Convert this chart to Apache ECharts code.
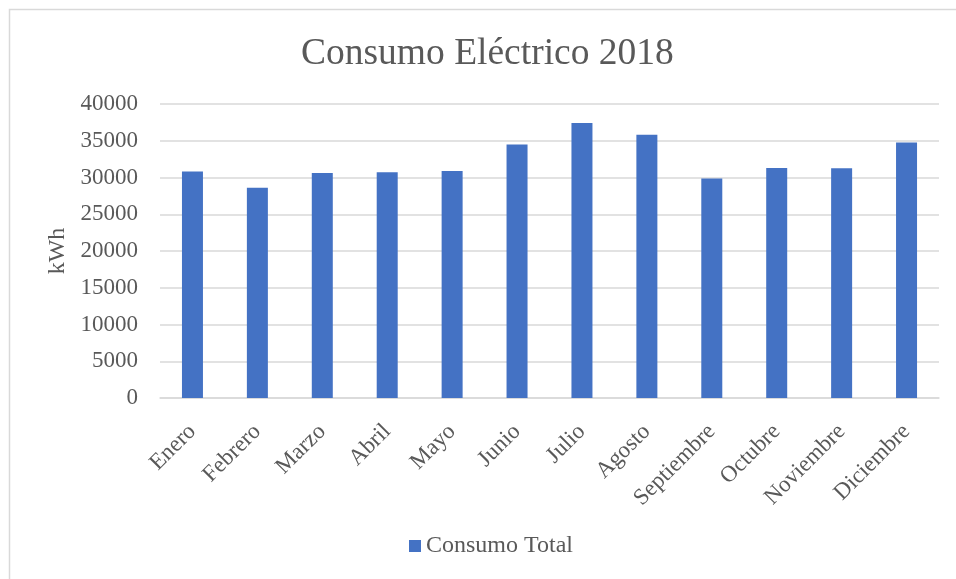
<!DOCTYPE html>
<html>
<head>
<meta charset="utf-8">
<script src="https://cdn.jsdelivr.net/npm/echarts@6/dist/echarts.min.js"></script>
<style>html,body{margin:0;padding:0;background:#fff;}#c{width:956px;height:579px;}</style>
</head>
<body>
<div id="c"></div>
<script>
const months = ['Enero','Febrero','Marzo','Abril','Mayo','Junio','Julio','Agosto','Septiembre','Octubre','Noviembre','Diciembre'];
const consumoTotal = [30800, 28600, 30600, 30700, 30900, 34500, 37400, 35800, 29850, 31300, 31250, 34750];
const yTicks = { min: 0, max: 40000, interval: 5000 };

const FONT = '"Liberation Serif", "Times New Roman", serif';
const TXT = '#595959';
const chart = echarts.init(document.getElementById('c'), null, { renderer: 'canvas' });
chart.setOption({
  backgroundColor: '#fff',
  animation: false,
  graphic: [{
    type: 'rect', left: 7, top: 7, shape: { width: 960, height: 580 },
    style: { fill: 'none', stroke: '#d9d9d9', lineWidth: 1.5 }, silent: true, z: -1
  }],
  title: {
    text: 'Consumo Eléctrico 2018',
    left: 301, top: 35,
    padding: 0,
    textStyle: { fontFamily: FONT, fontSize: 37.5, fontWeight: 'normal', color: TXT }
  },
  legend: {
    top: 534, left: 409, padding: 0,
    itemWidth: 12, itemHeight: 12,
    icon: 'rect',
    textStyle: { fontFamily: FONT, fontSize: 24, color: TXT },
    data: ['Consumo Total']
  },
  grid: { left: 160, right: 17, top: 104, bottom: 181, containLabel: false },
  xAxis: {
    type: 'category', data: months,
    axisLine: { show: true, lineStyle: { color: '#d9d9d9', width: 1.5 } },
    axisTick: { show: false },
    axisLabel: { rotate: 45, interval: 0, margin: 30, fontFamily: FONT, fontSize: 23, color: TXT }
  },
  yAxis: {
    type: 'value', min: yTicks.min, max: yTicks.max, interval: yTicks.interval,
    name: 'kWh', nameLocation: 'middle', nameGap: 90, nameRotate: 90,
    nameTextStyle: { fontFamily: FONT, fontSize: 24, color: TXT },
    axisLine: { show: false }, axisTick: { show: false },
    splitLine: { lineStyle: { color: '#d9d9d9', width: 1.5 } },
    axisLabel: { margin: 22, fontFamily: FONT, fontSize: 23, color: TXT, formatter: v => String(v) }
  },
  series: [{
    name: 'Consumo Total', type: 'bar', data: consumoTotal,
    barWidth: 21,
    itemStyle: { color: '#4472C4' }
  }]
});
</script>
</body>
</html>
